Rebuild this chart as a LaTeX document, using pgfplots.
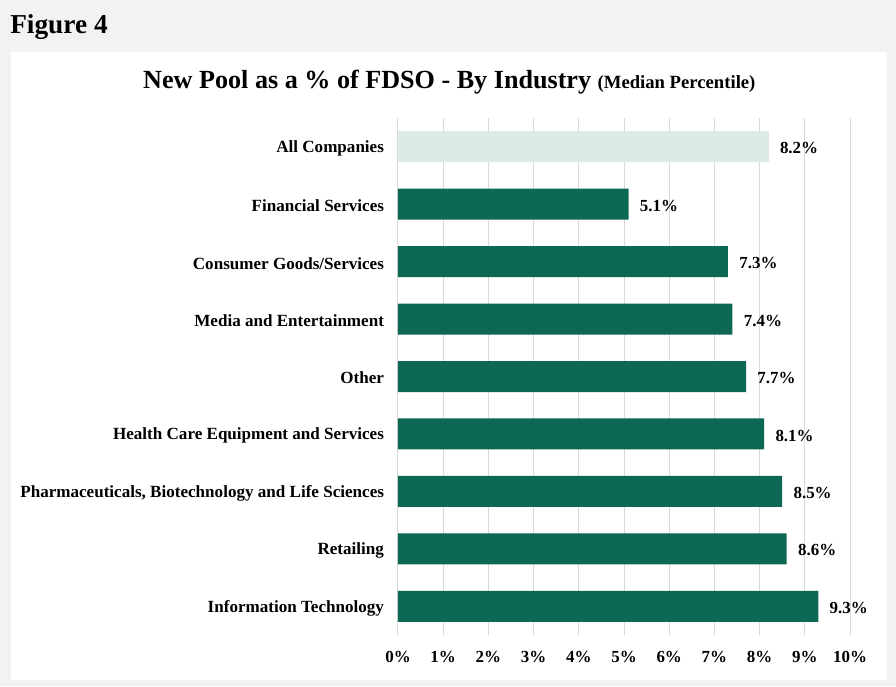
\documentclass[border=0pt]{standalone}
\usepackage{pgfplots}
\pgfplotsset{compat=1.18}
\usepackage{fontspec}
\setmainfont{Liberation Serif}
\definecolor{bggray}{HTML}{F2F2F2}
\definecolor{bardark}{HTML}{0C6753}
\definecolor{barlight}{HTML}{DDEBE5}
\definecolor{gridgray}{HTML}{D9D9D9}

\begin{document}
\begin{tikzpicture}
% page background and white panel (1px = 0.75pt)
\fill[bggray] (0pt,0pt) rectangle (672pt,-514.5pt);
\fill[white] (8.25pt,-39pt) rectangle (665.25pt,-510pt);
\node[anchor=base west, inner sep=0pt, font=\bfseries\fontsize{20.5pt}{24pt}\selectfont]
  at (7.5pt,-24.75pt) {Figure 4};
\node[anchor=base, inner sep=0pt] at (337pt,-66pt)
  {\bfseries\fontsize{19.6pt}{23pt}\selectfont New Pool as a \% of FDSO - By Industry
   {\fontsize{14pt}{16pt}\selectfont (Median Percentile)}};

\begin{axis}[
    at={(298.5pt,-476.25pt)}, anchor=south west,
    scale only axis,
    width=339pt, height=387.75pt,
    xbar, bar width=23.25pt, bar shift=0pt,
    xmin=0, xmax=10,
    ymin=-0.5, ymax=8.5,
    y dir=reverse,
    enlargelimits=false,
    axis line style={draw=none},
    major tick length=0pt,
    xtick={0,1,...,10},
    xmajorgrids, grid style={gridgray, line width=0.75pt},
    ytick={0,...,8},
    yticklabels={All Companies, Financial Services, Consumer Goods/Services,
      Media and Entertainment, Other, Health Care Equipment and Services,
      {Pharmaceuticals, Biotechnology and Life Sciences}, Retailing,
      Information Technology},
    yticklabel style={font=\bfseries\fontsize{12.8pt}{14pt}\selectfont, xshift=-7pt, yshift=-1.2pt},
    /pgf/number format/assume math mode=true,
    xticklabel={\pgfmathprintnumber{\tick}\%},
    xticklabel style={font=\bfseries\fontsize{12.7pt}{14pt}\selectfont, yshift=-9pt},
    nodes near coords={\pgfmathprintnumber[fixed,precision=1,fixed zerofill]{\pgfplotspointmeta}\%},
    nodes near coords style={font=\bfseries\fontsize{12.7pt}{14pt}\selectfont, anchor=west, xshift=5pt, yshift=-1.2pt},
]
\addplot[fill=barlight, draw=none] coordinates {(8.2,0)};
\addplot[fill=bardark, draw=none] coordinates {
    (5.1,1) (7.3,2) (7.4,3) (7.7,4) (8.1,5) (8.5,6) (8.6,7) (9.3,8)
};
\end{axis}
\end{tikzpicture}
\end{document}
